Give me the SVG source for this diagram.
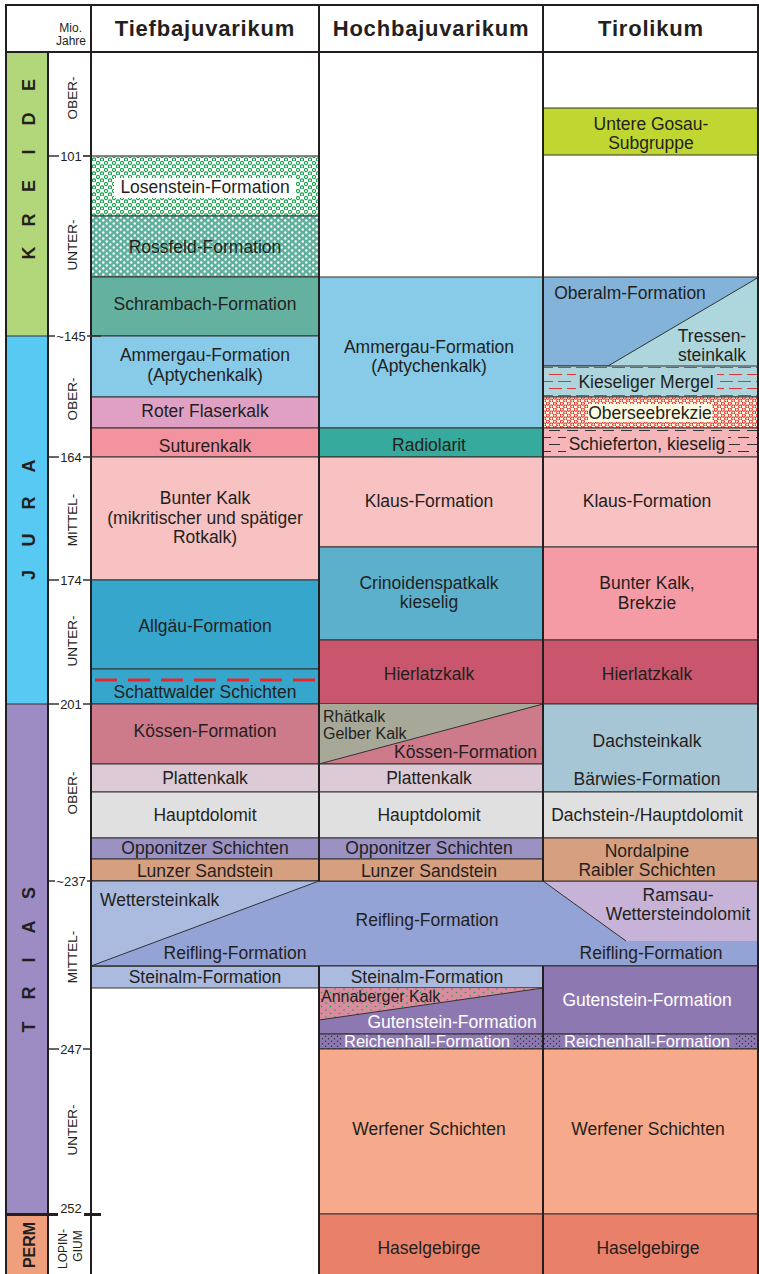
<svg xmlns="http://www.w3.org/2000/svg" width="759" height="1274" viewBox="0 0 759 1274">
<style>
.b{stroke:#333;stroke-width:1}
.t{font-family:"Liberation Sans",Arial,Helvetica,sans-serif;font-size:17.5px;fill:#231f20;text-anchor:middle}
.s{font-size:16px}
.st{text-anchor:start}
.en{text-anchor:end}
.w{fill:#fff}
.h{font-family:"Liberation Sans",Arial,Helvetica,sans-serif;font-weight:bold;font-size:22px;letter-spacing:0.8px;text-anchor:middle;fill:#231f20}
.mj{font-family:"Liberation Sans",Arial,Helvetica,sans-serif;font-size:12px;fill:#231f20;text-anchor:end}
.ep{font-family:"Liberation Sans",Arial,Helvetica,sans-serif;font-size:13.5px;text-anchor:middle;fill:#231f20}
.tk{font-family:"Liberation Sans",Arial,Helvetica,sans-serif;font-size:13px;text-anchor:middle;fill:#231f20}
.pl{font-family:"Liberation Sans",Arial,Helvetica,sans-serif;font-weight:bold;font-size:18px;text-anchor:middle;fill:#231f20}
.tick{stroke:#333;stroke-width:1.5}
.div{stroke:#231f20;stroke-width:2;fill:none}
</style>
<defs>
<pattern id="losen" patternUnits="userSpaceOnUse" width="8" height="7">
<rect width="8" height="7" fill="#fff"/>
<circle cx="2" cy="2" r="1.6" fill="none" stroke="#14a04a" stroke-width="1.1"/>
<circle cx="6" cy="5.5" r="1.6" fill="none" stroke="#14a04a" stroke-width="1.1"/>
</pattern>
<pattern id="ross" patternUnits="userSpaceOnUse" width="7" height="6">
<rect width="7" height="6" fill="#5fb09d"/>
<circle cx="1.75" cy="1.5" r="1.2" fill="#fff"/>
<circle cx="5.25" cy="4.5" r="1.2" fill="#fff"/>
</pattern>
<pattern id="obs" patternUnits="userSpaceOnUse" width="7" height="6">
<rect width="7" height="6" fill="#fffbe2"/>
<circle cx="1.8" cy="1.6" r="1.6" fill="none" stroke="#e52d2d" stroke-width="1.1"/>
<circle cx="5.3" cy="4.6" r="1.6" fill="none" stroke="#e52d2d" stroke-width="1.1"/>
</pattern>
<pattern id="kies" patternUnits="userSpaceOnUse" width="18" height="14">
<rect width="18" height="14" fill="#aed5dc"/>
<line x1="0" y1="3.5" x2="13" y2="3.5" stroke="#e0343c" stroke-width="1"/>
<line x1="9" y1="10.5" x2="18" y2="10.5" stroke="#e0343c" stroke-width="1"/>
<line x1="0" y1="10.5" x2="4" y2="10.5" stroke="#e0343c" stroke-width="1"/>
</pattern>
<pattern id="schief" patternUnits="userSpaceOnUse" width="18" height="14">
<rect width="18" height="14" fill="#f6b6b9"/>
<line x1="0" y1="3.5" x2="11" y2="3.5" stroke="#333" stroke-width="1"/>
<line x1="9" y1="10.5" x2="18" y2="10.5" stroke="#333" stroke-width="1"/>
<line x1="0" y1="10.5" x2="2" y2="10.5" stroke="#333" stroke-width="1"/>
</pattern>
<pattern id="anna" patternUnits="userSpaceOnUse" width="9" height="7">
<rect width="9" height="7" fill="#d98ca0"/>
<circle cx="2" cy="2" r="0.8" fill="#1e9b4b"/>
<circle cx="6.5" cy="5.5" r="0.8" fill="#1e9b4b"/>
</pattern>
<pattern id="reich" patternUnits="userSpaceOnUse" width="6" height="5">
<rect width="6" height="5" fill="#8e78b2"/>
<circle cx="1.5" cy="1.2" r="0.7" fill="#2a2a2a"/>
<circle cx="4.5" cy="3.7" r="0.7" fill="#2a2a2a"/>
</pattern>
</defs>

<rect x="0" y="0" width="759" height="1274" fill="#fff"/>

<g id="header">
<text class="mj" x="82" y="32">Mio.</text>
<text class="mj" x="86" y="45">Jahre</text>
<text class="h" x="205" y="36">Tiefbajuvarikum</text>
<text class="h" x="431" y="36">Hochbajuvarikum</text>
<text class="h" x="651" y="36">Tirolikum</text>
</g>

<g id="period-kreide">
<rect x="7" y="52" width="41" height="284" fill="#b2d67a"/>
<text class="pl" transform="translate(34.5,0) rotate(-90)"><tspan x="-253" y="0">K</tspan><tspan x="-220" y="0">R</tspan><tspan x="-186" y="0">E</tspan><tspan x="-152" y="0">I</tspan><tspan x="-119" y="0">D</tspan><tspan x="-85" y="0">E</tspan></text>
</g>
<g id="period-jura">
<rect x="7" y="336" width="41" height="368" fill="#58c9f3"/>
<text class="pl" transform="translate(34.5,0) rotate(-90)"><tspan x="-575" y="0">J</tspan><tspan x="-540" y="0">U</tspan><tspan x="-503" y="0">R</tspan><tspan x="-466" y="0">A</tspan></text>
</g>
<g id="period-trias">
<rect x="7" y="704" width="41" height="510" fill="#9c8cc3"/>
<text class="pl" transform="translate(34.5,0) rotate(-90)"><tspan x="-1027" y="0">T</tspan><tspan x="-993" y="0">R</tspan><tspan x="-960" y="0">I</tspan><tspan x="-927" y="0">A</tspan><tspan x="-893" y="0">S</tspan></text>
</g>
<g id="period-perm">
<rect x="7" y="1214" width="41" height="60" fill="#ef9f7c"/>
<text class="pl" style="font-size:16px" transform="translate(35,1245) rotate(-90)">PERM</text>
</g>
<g id="period-lines">
<line x1="6" y1="336" x2="48" y2="336" class="b" stroke-width="1.5"/>
<line x1="6" y1="704" x2="48" y2="704" class="b" stroke-width="1.5"/>
</g>

<g id="epochs">
<text class="ep" transform="translate(76.5,98) rotate(-90)">OBER-</text>
<text class="ep" transform="translate(76.5,245) rotate(-90)">UNTER-</text>
<text class="ep" transform="translate(76.5,399) rotate(-90)">OBER-</text>
<text class="ep" transform="translate(76.5,520) rotate(-90)">MITTEL-</text>
<text class="ep" transform="translate(76.5,641) rotate(-90)">UNTER-</text>
<text class="ep" transform="translate(76.5,793) rotate(-90)">OBER-</text>
<text class="ep" transform="translate(76.5,957) rotate(-90)">MITTEL-</text>
<text class="ep" transform="translate(76.5,1130) rotate(-90)">UNTER-</text>
<text class="ep" style="font-size:12px" transform="translate(67,1249) rotate(-90)">LOPIN-</text>
<text class="ep" style="font-size:12px" transform="translate(82,1246) rotate(-90)">GIUM</text>
</g>

<g id="tb-losenstein">
<rect x="91" y="156" width="228" height="60" fill="url(#losen)" class="b"/>
<line x1="83" y1="156" x2="319" y2="156" stroke="#808080" stroke-width="1.5"/>
<rect x="114" y="178" width="182" height="20" fill="#fff"/>
<text class="t" x="205" y="193">Losenstein-Formation</text>
</g>
<g id="tb-rossfeld">
<rect x="91" y="216" width="228" height="61" fill="url(#ross)" class="b"/>
<text class="t" x="205" y="253">Rossfeld-Formation</text>
</g>
<g id="tb-schrambach">
<rect x="91" y="277" width="228" height="59" fill="#65b1a0" class="b"/>
<text class="t" x="205" y="310">Schrambach-Formation</text>
</g>
<g id="tb-ammergau">
<rect x="91" y="336" width="228" height="61" fill="#87cbe9" class="b"/>
<text class="t" x="205" y="361">Ammergau-Formation</text>
<text class="t" x="205" y="381">(Aptychenkalk)</text>
</g>
<g id="tb-roter-flaserkalk">
<rect x="91" y="397" width="228" height="31" fill="#dfa0c4" class="b"/>
<text class="t" x="205" y="417">Roter Flaserkalk</text>
</g>
<g id="tb-suturenkalk">
<rect x="91" y="428" width="228" height="29" fill="#f3939f" class="b"/>
<text class="t" x="205" y="452">Suturenkalk</text>
</g>
<g id="tb-bunter-kalk">
<rect x="91" y="457" width="228" height="123" fill="#f8c1c2" class="b"/>
<text class="t" x="205" y="504">Bunter Kalk</text>
<text class="t" x="205" y="524">(mikritischer und spätiger</text>
<text class="t" x="205" y="543">Rotkalk)</text>
</g>
<g id="tb-allgaeu">
<rect x="91" y="580" width="228" height="89" fill="#36a6cd" class="b"/>
<text class="t" x="205" y="632">Allgäu-Formation</text>
</g>
<g id="tb-schattwalder">
<rect x="91" y="669" width="228" height="35" fill="#36a6cd" class="b"/>
<line x1="95" y1="680" x2="319" y2="680" stroke="#e5262c" stroke-width="3" stroke-dasharray="22 11"/>
<text class="t" x="205" y="698">Schattwalder Schichten</text>
</g>
<g id="tb-koessen">
<rect x="91" y="704" width="228" height="60" fill="#cd7a8b" class="b"/>
<text class="t" x="205" y="737">Kössen-Formation</text>
</g>
<g id="tb-plattenkalk">
<rect x="91" y="764" width="228" height="28" fill="#dccbd7" class="b"/>
<text class="t" x="205" y="784">Plattenkalk</text>
</g>
<g id="tb-hauptdolomit">
<rect x="91" y="792" width="228" height="46" fill="#e0e0e0" class="b"/>
<text class="t" x="205" y="821">Hauptdolomit</text>
</g>
<g id="tb-opponitzer">
<rect x="91" y="838" width="228" height="21" fill="#9b91c2" class="b"/>
<text class="t" x="205" y="854">Opponitzer Schichten</text>
</g>
<g id="tb-lunzer">
<rect x="91" y="859" width="228" height="22" fill="#d69f80" class="b"/>
<text class="t" x="205" y="877">Lunzer Sandstein</text>
</g>
<g id="tb-steinalm">
<rect x="91" y="966" width="228" height="22" fill="#abbbe0" class="b"/>
<text class="t" x="205" y="983">Steinalm-Formation</text>
</g>

<g id="band-reifling">
<rect x="91" y="881" width="668" height="85" fill="#94a3d5" class="b"/>
<polygon points="91,881 319,881 91,966" fill="#abbbe0"/>
<line x1="91" y1="966" x2="319" y2="881" class="b"/>
<polygon points="543,881 759,881 759,941 626,941" fill="#c7b3d7"/>
<line x1="543" y1="881" x2="626" y2="941" class="b"/>
<line x1="91" y1="881" x2="759" y2="881" class="b"/>
<line x1="91" y1="966" x2="759" y2="966" class="b"/>
<text class="t st" x="100" y="906">Wettersteinkalk</text>
<text class="t" x="235" y="959">Reifling-Formation</text>
<text class="t" x="427" y="926">Reifling-Formation</text>
<text class="t" x="678" y="901">Ramsau-</text>
<text class="t" x="678" y="920">Wettersteindolomit</text>
<text class="t" x="651" y="959">Reifling-Formation</text>
</g>

<g id="hb-ammergau">
<rect x="319" y="277" width="224" height="151" fill="#87cbe9" class="b"/>
<text class="t" x="429" y="353">Ammergau-Formation</text>
<text class="t" x="429" y="372">(Aptychenkalk)</text>
</g>
<g id="hb-radiolarit">
<rect x="319" y="428" width="224" height="29" fill="#36aa9c" class="b"/>
<text class="t" x="429" y="451">Radiolarit</text>
</g>
<g id="hb-klaus">
<rect x="319" y="457" width="224" height="90" fill="#f8c1c2" class="b"/>
<text class="t" x="429" y="507">Klaus-Formation</text>
</g>
<g id="hb-crinoiden">
<rect x="319" y="547" width="224" height="93" fill="#5cb0cc" class="b"/>
<text class="t" x="429" y="589">Crinoidenspatkalk</text>
<text class="t" x="429" y="608">kieselig</text>
</g>
<g id="hb-hierlatz">
<rect x="319" y="640" width="224" height="64" fill="#c9566c" class="b"/>
<text class="t" x="429" y="680">Hierlatzkalk</text>
</g>
<g id="hb-rhaet-koessen">
<rect x="319" y="704" width="224" height="60" fill="#cd7a8b" class="b"/>
<polygon points="319,704 543,704 319,764" fill="#a8a899"/>
<line x1="319" y1="764" x2="543" y2="704" class="b"/>
<text class="t s st" x="323" y="722">Rhätkalk</text>
<text class="t s st" x="323" y="739">Gelber Kalk</text>
<text class="t en" x="537" y="758">Kössen-Formation</text>
</g>
<g id="hb-plattenkalk">
<rect x="319" y="764" width="224" height="28" fill="#dccbd7" class="b"/>
<text class="t" x="429" y="784">Plattenkalk</text>
</g>
<g id="hb-hauptdolomit">
<rect x="319" y="792" width="224" height="46" fill="#e0e0e0" class="b"/>
<text class="t" x="429" y="821">Hauptdolomit</text>
</g>
<g id="hb-opponitzer">
<rect x="319" y="838" width="224" height="21" fill="#9b91c2" class="b"/>
<text class="t" x="429" y="854">Opponitzer Schichten</text>
</g>
<g id="hb-lunzer">
<rect x="319" y="859" width="224" height="22" fill="#d69f80" class="b"/>
<text class="t" x="429" y="877">Lunzer Sandstein</text>
</g>
<g id="hb-steinalm">
<rect x="319" y="966" width="224" height="22" fill="#abbbe0" class="b"/>
<text class="t" x="427" y="983">Steinalm-Formation</text>
</g>
<g id="hb-annaberger-gutenstein">
<rect x="319" y="988" width="224" height="46" fill="#8e78b2" class="b"/>
<polygon points="319,988 543,988 319,1020" fill="url(#anna)"/>
<line x1="319" y1="1020" x2="543" y2="988" class="b"/>
<text class="t s st" x="321" y="1002">Annaberger Kalk</text>
<text class="t w" x="452" y="1028">Gutenstein-Formation</text>
</g>
<g id="hb-reichenhall">
<rect x="319" y="1034" width="224" height="15" fill="url(#reich)" class="b"/>
<rect x="341" y="1035" width="172" height="13" fill="#8e78b2"/>
<text class="t w" style="font-size:16.5px" x="427" y="1047">Reichenhall-Formation</text>
</g>
<g id="hb-werfener">
<rect x="319" y="1049" width="224" height="165" fill="#f6aa8b" class="b"/>
<text class="t" x="429" y="1135">Werfener Schichten</text>
</g>
<g id="hb-haselgebirge">
<rect x="319" y="1214" width="224" height="62" fill="#e9816a" class="b"/>
<text class="t" x="429" y="1254">Haselgebirge</text>
</g>

<g id="ti-gosau">
<rect x="543" y="108" width="216" height="47" fill="#c0d731" class="b"/>
<text class="t" x="651" y="130">Untere Gosau-</text>
<text class="t" x="651" y="149">Subgruppe</text>
</g>
<g id="ti-oberalm-tressenstein">
<rect x="543" y="277" width="216" height="89" fill="#84b3d9" class="b"/>
<polygon points="759,277 759,366 608,366" fill="#aed6dd"/>
<line x1="608" y1="366" x2="759" y2="277" class="b"/>
<text class="t" x="630" y="299">Oberalm-Formation</text>
<text class="t" x="712" y="342">Tressen-</text>
<text class="t" x="712" y="361">steinkalk</text>
</g>
<g id="ti-kieseliger-mergel">
<rect x="543" y="366" width="216" height="31" fill="url(#kies)" class="b"/>
<rect x="576" y="373" width="141" height="18" fill="#aed5dc"/>
<text class="t" x="646" y="388">Kieseliger Mergel</text>
</g>
<g id="ti-oberseebrekzie">
<rect x="543" y="397" width="216" height="31" fill="url(#obs)" class="b"/>
<rect x="588" y="404" width="124" height="18" fill="#fffbe2"/>
<text class="t" x="650" y="419">Oberseebrekzie</text>
</g>
<g id="ti-schieferton">
<rect x="543" y="428" width="216" height="29" fill="url(#schief)" class="b"/>
<rect x="566" y="435" width="162" height="18" fill="#f6b6b9"/>
<text class="t" x="647" y="450">Schieferton, kieselig</text>
</g>
<g id="ti-klaus">
<rect x="543" y="457" width="216" height="90" fill="#f8c1c2" class="b"/>
<text class="t" x="647" y="507">Klaus-Formation</text>
</g>
<g id="ti-bunter-kalk">
<rect x="543" y="547" width="216" height="93" fill="#f59ba6" class="b"/>
<text class="t" x="647" y="589">Bunter Kalk,</text>
<text class="t" x="647" y="609">Brekzie</text>
</g>
<g id="ti-hierlatz">
<rect x="543" y="640" width="216" height="64" fill="#c9566c" class="b"/>
<text class="t" x="647" y="680">Hierlatzkalk</text>
</g>
<g id="ti-dachsteinkalk">
<rect x="543" y="704" width="216" height="88" fill="#a6c5d5" class="b"/>
<text class="t" x="647" y="747">Dachsteinkalk</text>
<text class="t" x="647" y="785">Bärwies-Formation</text>
</g>
<g id="ti-dachstein-hauptdolomit">
<rect x="543" y="792" width="216" height="46" fill="#e0e0e0" class="b"/>
<text class="t" x="647" y="821">Dachstein-/Hauptdolomit</text>
</g>
<g id="ti-raibler">
<rect x="543" y="838" width="216" height="43" fill="#d69f80" class="b"/>
<text class="t" x="647" y="857">Nordalpine</text>
<text class="t" x="647" y="876">Raibler Schichten</text>
</g>
<g id="ti-gutenstein">
<rect x="543" y="966" width="216" height="68" fill="#8e78b2" class="b"/>
<text class="t w" x="647" y="1006">Gutenstein-Formation</text>
</g>
<g id="ti-reichenhall">
<rect x="543" y="1034" width="216" height="15" fill="url(#reich)" class="b"/>
<rect x="562" y="1035" width="172" height="13" fill="#8e78b2"/>
<text class="t w" style="font-size:16.5px" x="647" y="1047">Reichenhall-Formation</text>
</g>
<g id="ti-werfener">
<rect x="543" y="1049" width="216" height="165" fill="#f6aa8b" class="b"/>
<text class="t" x="648" y="1135">Werfener Schichten</text>
</g>
<g id="ti-haselgebirge">
<rect x="543" y="1214" width="216" height="62" fill="#e9816a" class="b"/>
<text class="t" x="648" y="1254">Haselgebirge</text>
</g>

<g id="frame">
<rect x="6" y="5" width="752" height="1272" class="div"/>
<line x1="6" y1="52" x2="759" y2="52" class="div"/>
<line x1="48" y1="52" x2="48" y2="1276" class="div"/>
<line x1="91" y1="5" x2="91" y2="1276" class="div"/>
<line x1="319" y1="5" x2="319" y2="881" class="div"/>
<line x1="319" y1="966" x2="319" y2="1276" class="div"/>
<line x1="543" y1="5" x2="543" y2="881" class="div"/>
<line x1="543" y1="966" x2="543" y2="1276" class="div"/>
</g>

<g id="ticks">
<line class="tick" x1="49" y1="156" x2="59" y2="156"/><line class="tick" x1="83" y1="156" x2="91" y2="156"/>
<text class="tk" x="71" y="160.5">101</text>
<line class="tick" x1="49" y1="336" x2="55" y2="336"/><line class="tick" x1="87" y1="336" x2="101" y2="336"/>
<text class="tk" x="71" y="340.5">~145</text>
<line class="tick" x1="49" y1="457" x2="59" y2="457"/><line class="tick" x1="83" y1="457" x2="91" y2="457"/>
<text class="tk" x="71" y="461.5">164</text>
<line class="tick" x1="49" y1="580" x2="59" y2="580"/><line class="tick" x1="83" y1="580" x2="91" y2="580"/>
<text class="tk" x="71" y="584.5">174</text>
<line class="tick" x1="49" y1="704" x2="59" y2="704"/><line class="tick" x1="83" y1="704" x2="91" y2="704"/>
<text class="tk" x="71" y="708.5">201</text>
<line class="tick" x1="49" y1="881" x2="55" y2="881"/><line class="tick" x1="87" y1="881" x2="91" y2="881"/>
<text class="tk" x="71" y="885.5">~237</text>
<line class="tick" x1="49" y1="1049" x2="59" y2="1049"/><line class="tick" x1="83" y1="1049" x2="91" y2="1049"/>
<text class="tk" x="71" y="1053.5">247</text>
<line x1="6" y1="1214.5" x2="58" y2="1214.5" stroke="#231f20" stroke-width="3"/>
<line x1="84" y1="1214.5" x2="101" y2="1214.5" stroke="#231f20" stroke-width="3"/>
<text class="tk" x="71" y="1213">252</text>
</g>
</svg>
